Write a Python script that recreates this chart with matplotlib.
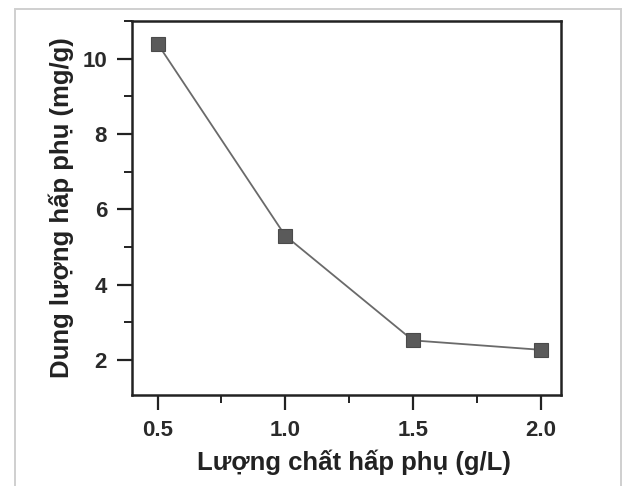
import matplotlib
matplotlib.use("Agg")
import matplotlib.pyplot as plt
from matplotlib.patches import Rectangle
from matplotlib.ticker import MultipleLocator

## Data ##
dose = [0.5, 1.0, 1.5, 2.0]  # g/L
capacity = [10.4, 5.3, 2.52, 2.27]  # mg/g

x_ticks = [0.5, 1.0, 1.5, 2.0]
x_ticklabels = ["0.5", "1.0", "1.5", "2.0"]
y_ticks = [2, 4, 6, 8, 10]

x_label = "Lượng chất hấp phụ (g/L)"
y_label = "Dung lượng hấp phụ (mg/g)"

plt.rcParams['font.family'] = ['Liberation Sans', 'DejaVu Sans']

fig = plt.figure(figsize=(6.27, 4.86), dpi=100)

# light outer frame of the scanned figure
fig.patches.append(Rectangle((15 / 627, -0.05), (621 - 15) / 627, 1 - 9 / 486 + 0.05,
                             transform=fig.transFigure, fill=False,
                             edgecolor='#cfcfcf', linewidth=1.4))

ax = fig.add_axes([132 / 627, 1 - 395 / 486, (561 - 132) / 627, (395 - 21) / 486])

ax.plot(dose, capacity, color='#6a6a6a', linewidth=1.3,
        marker='s', markersize=9.5, markerfacecolor='#5a5a5a',
        markeredgecolor='#4a4a4a', markeredgewidth=0.8)

ax.set_xlim(0.4, 2.08)
ax.set_ylim(1.07, 11.0)
ax.set_xticks(x_ticks)
ax.set_xticklabels(x_ticklabels)
ax.set_yticks(y_ticks)
ax.xaxis.set_minor_locator(MultipleLocator(0.25))
ax.yaxis.set_minor_locator(MultipleLocator(1))

ax.tick_params(which='major', direction='out', length=11, width=1.6,
               labelsize=16, colors='#222222', pad=7)
ax.tick_params(which='minor', direction='out', length=6, width=1.4, colors='#222222')
for lab in ax.get_xticklabels() + ax.get_yticklabels():
    lab.set_fontweight('bold')
    lab.set_color('#2a2a2a')

for s in ax.spines.values():
    s.set_linewidth(1.8)
    s.set_color('#222222')

ax.set_xlabel(x_label, fontsize=18.5, fontweight='bold', color='#222222', labelpad=6)
ax.set_ylabel(y_label, fontsize=18.5, fontweight='bold', color='#222222', labelpad=6)
ax.xaxis.label.set_x(0.517)

fig.savefig("out.png", dpi=100)
